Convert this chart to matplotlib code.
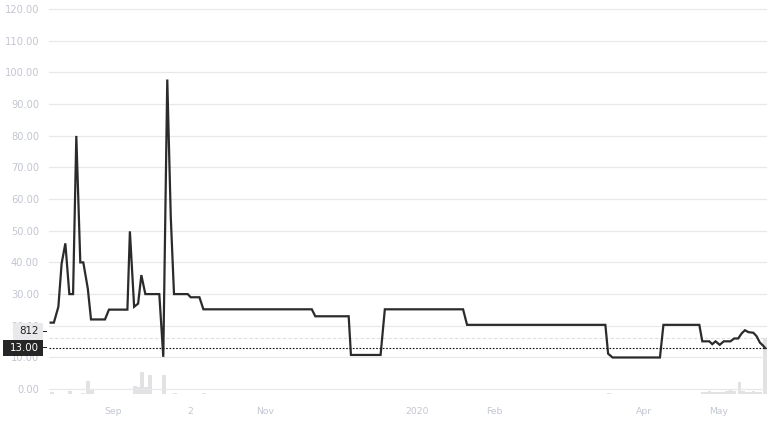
import matplotlib
matplotlib.use("Agg")
import matplotlib.pyplot as plt
from matplotlib.patches import Rectangle
from matplotlib.transforms import IdentityTransform
import pandas as pd

# ---- data (x = days after 2019-09-01) ----
price_days = [-24.9, -23.6, -21.8, -20.5, -19.0, -17.4, -15.9, -14.6, -13.0, -11.8,
              -10.0, -8.7, -3.1, -1.5, 5.9, 6.9, 8.6, 10.2, 11.5, 13.1,
              18.7, 20.3, 21.9, 23.3, 24.6, 30.1, 31.3, 34.8, 36.4, 79.9,
              81.3, 94.7, 95.6, 107.5, 109.2, 140.6, 142.2, 197.7, 198.8, 200.6,
              219.6, 221.0, 235.4, 236.6, 239.4, 240.6, 241.9, 243.6, 245.2, 247.9,
              249.4, 251.0, 252.4, 253.7, 255.1, 257.1, 258.4, 259.7, 260.8, 261.8]
price_vals = [21.0, 21.0, 26.0, 39.6, 46.0, 30.0, 30.0, 79.9, 40.0, 40.0,
              31.8, 22.0, 22.0, 25.1, 25.1, 49.8, 26.0, 27.0, 36.0, 30.0,
              30.0, 10.2, 97.7, 54.4, 30.0, 30.0, 29.0, 29.0, 25.2, 25.2,
              23.0, 23.0, 10.8, 10.8, 25.2, 25.2, 20.3, 20.3, 11.2, 10.0,
              10.0, 20.3, 20.3, 15.1, 15.1, 14.2, 15.1, 14.0, 15.1, 15.1,
              16.0, 16.0, 17.6, 18.6, 18.0, 17.8, 16.7, 14.7, 13.9, 13.0]

vol_days = [-24.4, -17.1, -11.9, -9.9, -8.3, 8.9, 10.4, 11.8, 13.4, 15.0,
            20.6, 25.0, 36.6, 199.1, 236.7, 238.1, 239.5, 240.9, 242.3, 243.7,
            245.1, 246.5, 247.9, 249.3, 251.5, 252.9, 254.3, 255.7, 257.1, 258.5,
            259.9, 261.7]
vol_vals = [15, 42, 8, 185, 62, 111, 92, 322, 89, 274,
            274, 12, 10, 12, 22, 22, 37, 15, 29, 22,
            22, 37, 51, 44, 174, 37, 29, 22, 37, 15,
            15, 812]

tick_dates = ["2019-09-01", "2019-10-02", "2019-11-01", "2020-01-01",
              "2020-02-01", "2020-04-01", "2020-05-01"]
tick_labels = ["Sep", "2", "Nov", "2020", "Feb", "Apr", "May"]
y_ticks = [0, 10, 20, 30, 40, 50, 60, 70, 80, 90, 100, 110, 120]

last_price = 13.00
last_volume = 812

base = pd.Timestamp("2019-09-01")
tick_pos = [(pd.Timestamp(d) - base).days for d in tick_dates]

# ---- figure ----
W, H = 772, 422
fig = plt.figure(figsize=(W / 100, H / 100), dpi=100)
fig.patch.set_facecolor("white")
ax_l, ax_r, ax_top, ax_bot = 49, 767, 0, 393.5
rect = [ax_l / W, (H - ax_bot) / H, (ax_r - ax_l) / W, (ax_bot - ax_top) / H]
ax = fig.add_axes(rect)
ax2 = ax.twinx()
ax.set_zorder(ax2.get_zorder() + 1)
ax.patch.set_visible(False)

label_color = "#c3c6d2"
grid_color = "#e8e8ea"

# volume bars
ax2.bar(vol_days, vol_vals, width=1.4, color="#e2e2e4", linewidth=0, zorder=1)
ax2.axhline(last_volume, color="#dedede", lw=0.8, ls=(0, (3, 2)), zorder=2)
ax2.set_ylim(0, last_volume * 393.5 / 55.2)
ax2.set_yticks([])
for s in ax2.spines.values():
    s.set_visible(False)

# price line
for yv in y_ticks:
    ax.axhline(yv, color=grid_color, lw=0.9, zorder=0)
ax.plot(price_days, price_vals, color="#2b2b2b", lw=1.6, solid_joinstyle="miter", zorder=3)
ax.axhline(last_price, color="#111111", lw=0.8, ls=(0, (1.5, 1.5)), zorder=4)

ax.set_xlim(-25.56, 262.56)
ax.set_ylim(-1.36, 122.78)
ax.set_yticks(y_ticks)
ax.set_yticklabels([f"{v:.2f}" for v in y_ticks])
ax.set_xticks(tick_pos)
ax.set_xticklabels(tick_labels)
ax.tick_params(axis="y", length=0, pad=7.2, labelsize=7.1, labelcolor=label_color)
ax.tick_params(axis="x", length=0, pad=10, labelsize=6.7, labelcolor=label_color)
for s in ax.spines.values():
    s.set_visible(False)

# ---- price scale labels (boxes) ----
fig.canvas.draw()
y13 = ax.transData.transform((0, last_price))[1]
box_h = 16.7
# last price box (dark)
fig.add_artist(Rectangle((3, y13 - box_h / 2), 40, box_h, transform=IdentityTransform(),
                         facecolor="#262626", edgecolor="none", zorder=10))
fig.add_artist(Rectangle((43, y13 - 0.5), 4, 1.0, transform=IdentityTransform(),
                         facecolor="#262626", edgecolor="none", zorder=10))
fig.text(39 / W, y13 / H, f"{last_price:.2f}", ha="right", va="center",
         fontsize=7.4, color="white", zorder=11)
# last volume box (light), stacked just above
yv = y13 + box_h / 2 + box_h / 2
fig.add_artist(Rectangle((13, yv - box_h / 2), 30, box_h, transform=IdentityTransform(),
                         facecolor="#e9e9eb", edgecolor="none", zorder=10))
fig.add_artist(Rectangle((43, yv - 0.5), 4, 1.0, transform=IdentityTransform(),
                         facecolor="#262626", edgecolor="none", zorder=10))
fig.text(39 / W, yv / H, f"{last_volume}", ha="right", va="center",
         fontsize=7.4, color="#222222", zorder=11)

fig.savefig("out.png", dpi=100, facecolor="white")
